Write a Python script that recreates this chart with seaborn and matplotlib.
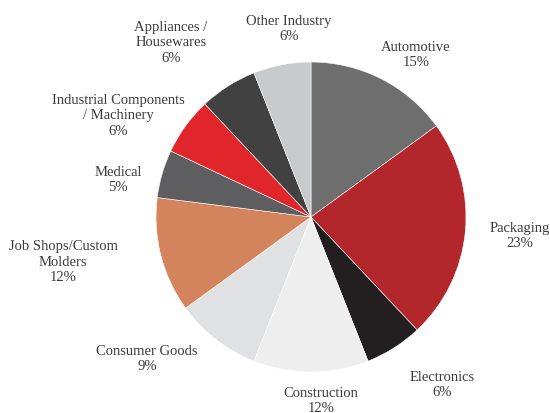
import matplotlib
matplotlib.use("Agg")
import matplotlib.pyplot as plt
import seaborn as sns

# Market share by end-use industry (percent), clockwise from 12 o'clock
industries = [
    "Automotive",
    "Packaging",
    "Electronics",
    "Construction",
    "Consumer Goods",
    "Job Shops/Custom\nMolders",
    "Medical",
    "Industrial Components\n/ Machinery",
    "Appliances /\nHousewares",
    "Other Industry",
]
shares = [15, 23, 6, 12, 9, 12, 5, 6, 6, 6]

# Slice colours, same order as the industries
slice_colors = [
    "#6e6e6e",
    "#b3262b",
    "#231f20",
    "#eeeeee",
    "#e0e1e3",
    "#d4845d",
    "#5e5e60",
    "#e0262b",
    "#414141",
    "#c9cacc",
]

# Label anchor points in pixels (x, y from top-left) for each label block
label_px = [
    (416, 55),
    (520, 236),
    (442, 385),
    (321, 401),
    (147, 359),
    (63, 262),
    (118, 180),
    (118, 116),
    (171, 43),
    (289, 29),
]

sns.set_theme(style="white")
plt.rcParams["font.family"] = ["Liberation Serif", "DejaVu Serif"]

W, H, DPI = 550, 413, 100
fig = plt.figure(figsize=(W / DPI, H / DPI), dpi=DPI)
fig.patch.set_facecolor("white")

cx, cy, r = 311, 217, 155
ax = fig.add_axes([(cx - r) / W, (H - cy - r) / H, 2 * r / W, 2 * r / H])
ax.pie(
    shares,
    colors=slice_colors,
    startangle=90,
    counterclock=False,
    radius=1.0,
    wedgeprops=dict(edgecolor="white", linewidth=0.4),
)
ax.set_xlim(-1, 1)
ax.set_ylim(-1, 1)
ax.set_aspect("equal")
ax.axis("off")

for name, val, (px, py) in zip(industries, shares, label_px):
    x = (px - cx) / r
    y = (cy - py) / r
    ax.text(
        x, y, f"{name}\n{val}%",
        ha="center", va="center", fontsize=10.5, color="#3c3c3c",
        linespacing=1.25, clip_on=False,
    )

fig.savefig("out.png", dpi=DPI, facecolor="white")
